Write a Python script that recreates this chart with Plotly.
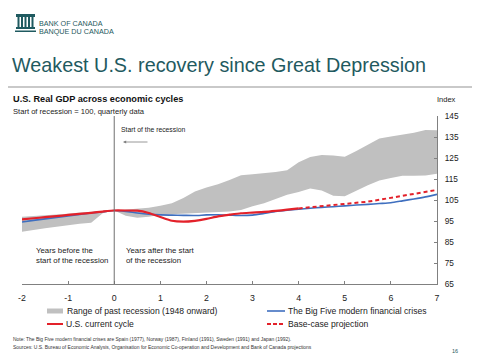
import plotly.graph_objects as go

# ---------------- data ----------------
quarters = [-2 + 0.25 * i for i in range(37)]  # -2 .. 7 (years from start of recession)

band_lower = [89.9, 90.7, 91.5, 92.3, 93.1, 93.7, 94.2, 98.7, 100.0,
              97.5, 96.5, 97.0, 98.0, 98.3, 98.5, 98.7, 99.0, 99.2, 99.5, 100.2,
              102.0, 103.5, 105.5, 107.5, 108.8, 110.5, 109.5, 107.0, 106.8,
              109.5, 112.0, 114.3, 115.5, 116.5, 116.5, 116.7, 117.5]
band_upper = [97.0, 97.3, 97.7, 98.0, 98.5, 99.0, 99.5, 99.8, 100.0,
              100.5, 100.8, 101.3, 102.3, 103.5, 106.0, 109.0, 111.0, 112.5, 114.5, 116.8,
              117.3, 117.8, 118.3, 119.2, 123.0, 125.5, 126.4, 126.2, 125.6,
              128.3, 131.5, 134.3, 135.2, 136.0, 137.0, 138.3, 138.2]

big_five = [94.5, 95.3, 96.0, 96.7, 97.4, 98.1, 98.8, 99.4, 100.0,
            99.6, 98.8, 98.2, 97.9, 97.8, 97.7, 97.6, 97.9, 98.0, 97.8, 97.6,
            97.8, 98.6, 99.5, 100.1, 100.6, 101.1, 101.5, 101.8, 102.2,
            102.6, 102.9, 103.3, 103.7, 104.6, 105.5, 106.5, 107.7]

us_current = [95.8, 96.3, 96.8, 97.3, 97.9, 98.4, 98.9, 99.5, 100.0,
              100.0, 99.9, 98.8, 96.9, 95.1, 94.7, 95.1, 96.0, 97.2, 98.0, 98.7,
              99.0, 99.3, 99.8, 100.4, 101.0]  # -2 .. 4
projection = [101.0, 101.5, 102.0, 102.4, 102.9, 103.4, 104.2, 105.1, 106.1,
              107.0, 108.0, 108.9, 109.8]  # 4 .. 7

x_ticks = [-2, -1, 0, 1, 2, 3, 4, 5, 6, 7]
x_tick_text = ["-2", "-1", "0", "1", "2", "3", "4", "5", "6", "7"]
y_ticks = [65, 75, 85, 95, 105, 115, 125, 135, 145]

labels = {
    "band": "Range of past recession (1948 onward)",
    "current": "U.S. current cycle",
    "big5": "The Big Five modern financial crises",
    "proj": "Base-case projection",
}

# ---------------- styling ----------------
FONT = "Arial, Liberation Sans, sans-serif"
TEAL = "#1f5a60"
RED = "#e3212a"
BLUE = "#3f6fbf"
GREY = "#c0c0c0"
AXIS = "#808080"

W_FIG, H_FIG = 480, 360
L, T, PW, PH = 22, 116, 415, 168


def px(x):
    return (x - L) / PW


def py(y):
    return (T + PH - y) / PH


fig = go.Figure()

n_cur = len(us_current)
fig.add_trace(go.Scatter(
    x=quarters + quarters[::-1], y=band_upper + band_lower[::-1],
    fill="toself", fillcolor=GREY, line=dict(width=0, color=GREY),
    mode="lines", name=labels["band"], hoverinfo="skip", showlegend=False))
fig.add_trace(go.Scatter(
    x=quarters, y=big_five, mode="lines", name=labels["big5"],
    line=dict(color=BLUE, width=1.6, shape="spline", smoothing=0.6), showlegend=False))
fig.add_trace(go.Scatter(
    x=quarters[n_cur - 1:], y=projection, mode="lines", name=labels["proj"],
    line=dict(color=RED, width=2, dash="4px,3px"), showlegend=False))
fig.add_trace(go.Scatter(
    x=quarters[:n_cur], y=us_current, mode="lines", name=labels["current"],
    line=dict(color=RED, width=2.2, shape="spline", smoothing=0.6), showlegend=False))

shapes = []
# vertical line at start of recession
shapes.append(dict(type="line", xref="x", yref="paper", x0=0, x1=0, y0=0, y1=1,
                   line=dict(color="#6f6f6f", width=1)))
# separator under the slide title
shapes.append(dict(type="line", xref="paper", yref="paper", x0=px(8), x1=px(472),
                   y0=py(87), y1=py(87), line=dict(color="#c9c9c9", width=2)))
# legend swatches
shapes.append(dict(type="line", xref="paper", yref="paper", x0=px(47), x1=px(63),
                   y0=py(311), y1=py(311), line=dict(color=GREY, width=5)))
shapes.append(dict(type="line", xref="paper", yref="paper", x0=px(47), x1=px(63),
                   y0=py(324), y1=py(324), line=dict(color=RED, width=2)))
shapes.append(dict(type="line", xref="paper", yref="paper", x0=px(267), x1=px(285),
                   y0=py(311), y1=py(311), line=dict(color=BLUE, width=1.6)))
shapes.append(dict(type="line", xref="paper", yref="paper", x0=px(267), x1=px(285),
                   y0=py(324), y1=py(324), line=dict(color=RED, width=2, dash="4px,2px")))
# logo (simplified building)
shapes.append(dict(type="rect", xref="paper", yref="paper", x0=px(16), x1=px(35),
                   y0=py(17), y1=py(14), line=dict(width=0), fillcolor=TEAL))
for cx in [17.5, 21, 24.5, 28, 31.5]:
    shapes.append(dict(type="rect", xref="paper", yref="paper", x0=px(cx), x1=px(cx + 2),
                       y0=py(27), y1=py(17), line=dict(width=0), fillcolor=TEAL))
shapes.append(dict(type="rect", xref="paper", yref="paper", x0=px(16), x1=px(35),
                   y0=py(29), y1=py(27), line=dict(width=0), fillcolor=TEAL))
shapes.append(dict(type="rect", xref="paper", yref="paper", x0=px(15), x1=px(36),
                   y0=py(32), y1=py(30.5), line=dict(width=0), fillcolor=TEAL))


def ann(text, x, y, size, color="#222222", xanchor="left", bold=False, yanchor="middle"):
    return dict(text=f"<b>{text}</b>" if bold else text, x=px(x), y=py(y),
                xref="paper", yref="paper", xanchor=xanchor, yanchor=yanchor,
                align="left", showarrow=False, font=dict(family=FONT, size=size, color=color))


annotations = [
    ann("BANK OF CANADA", 37, 23.5, 7.2, TEAL),
    ann("BANQUE DU CANADA", 37, 31, 7.2, TEAL),
    ann("Weakest U.S. recovery since Great Depression", 10, 65, 19.8, TEAL),
    ann("U.S. Real GDP across economic cycles", 11, 99.5, 9.2, "#111111", bold=True),
    ann("Start of recession = 100, quarterly data", 11, 111, 7.6, "#222222"),
    ann("Index", 446, 100, 7.5, "#222222", xanchor="center"),
    ann("Start of the recession", 119, 129, 6.8),
    ann("Years before the<br>start of the recession", 34, 255, 7.8),
    ann("Years after the start<br>of the recession", 124, 255, 7.8),
    ann(labels["band"], 65, 311, 8.6),
    ann(labels["current"], 64, 324, 8.6),
    ann(labels["big5"], 286, 311, 8.6),
    ann(labels["proj"], 286, 324, 8.6),
    ann("Note: The Big Five modern financial crises are Spain (1977), Norway (1987), Finland (1991), "
        "Sweden (1991) and Japan (1992).", 11, 339.5, 4.95, "#333333"),
    ann("Sources: U.S. Bureau of Economic Analysis, Organisation for Economic Co-operation and "
        "Development and Bank of Canada projections", 11, 347, 4.95, "#333333"),
    ann("16", 455, 351, 5.5, TEAL, xanchor="center"),
]
# arrow pointing back to the start of the recession
annotations.append(dict(x=px(123), y=py(142), ax=26, ay=0,
                        xref="paper", yref="paper", axref="pixel", ayref="pixel",
                        showarrow=True, arrowhead=2, arrowsize=0.8, arrowwidth=0.8,
                        arrowcolor="#7f7f7f", text=""))

fig.update_layout(
    width=W_FIG, height=H_FIG,
    margin=dict(l=L, r=W_FIG - L - PW, t=T, b=H_FIG - T - PH),
    paper_bgcolor="white", plot_bgcolor="white",
    showlegend=False,
    font=dict(family=FONT, color="#222222"),
    shapes=shapes, annotations=annotations,
    xaxis=dict(range=[-2, 7], tickvals=x_ticks, ticktext=x_tick_text,
               showgrid=False, zeroline=False, showline=True, linecolor=AXIS, linewidth=1,
               ticks="inside", ticklen=3, tickcolor=AXIS, ticklabelstandoff=5,
               tickfont=dict(size=8.8, color="#222222")),
    yaxis=dict(range=[65, 145], tickvals=y_ticks, side="right",
               showgrid=False, zeroline=False, showline=True, linecolor=AXIS, linewidth=1,
               ticks="inside", ticklen=3, tickcolor=AXIS, ticklabelstandoff=5,
               tickfont=dict(size=8.3, color="#222222")),
    yaxis2=dict(range=[0, 7], dtick=1, overlaying="y", side="left",
                showgrid=False, zeroline=False, showline=True, linecolor=AXIS, linewidth=1,
                ticks="outside", ticklen=3, tickcolor=AXIS, showticklabels=False),
)

fig.write_html("out.html", config={"displayModeBar": False},
               post_script="document.body.style.margin='0';")
